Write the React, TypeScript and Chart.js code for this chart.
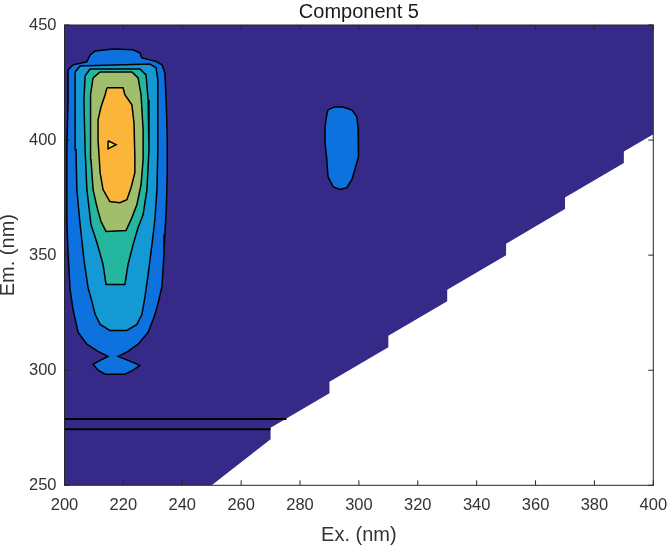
import React, { useEffect, useRef } from 'react';
import { Chart, registerables } from 'chart.js';

Chart.register(...registerables);

// ---- Text ----
const TITLE = 'Component 5';
const X_LABEL = 'Ex. (nm)';
const Y_LABEL = 'Em. (nm)';

// ---- Axes ----
const X_MIN = 200;
const X_MAX = 400;
const X_STEP = 20;
const Y_MIN = 250;
const Y_MAX = 450;
const Y_STEP = 50;

type P = [number, number];

// Region where the spectrum is defined (lowest contour band); staircase lower edge
const dataRegion: P[] = [
  [200, 250], [250, 250], [270, 270], [270, 275], [290, 290], [290, 295],
  [310, 310], [310, 315], [330, 330], [330, 335], [350, 350], [350, 355],
  [370, 370], [370, 375], [390, 390], [390, 395], [400, 402.5], [400, 450], [200, 450],
];

// Contour level 1 – main peak
const level1Main: P[] = [
  [201.2, 430.5], [202.9, 432.7], [207.6, 434.0], [208.7, 437.0], [210.4, 438.7],
  [216.5, 439.6], [223.3, 439.2], [225.6, 437.9], [226.3, 435.7], [231.0, 434.2],
  [233.1, 432.7], [234.1, 429.2], [234.6, 414.4], [234.9, 400.1], [234.9, 385.8],
  [234.6, 371.1], [234.1, 359.0], [233.8, 351.1], [233.1, 336.4], [231.7, 328.6],
  [230.4, 323.0], [228.4, 316.5], [225.3, 311.7], [221.6, 308.2], [218.2, 306.0],
  [221.6, 304.3], [225.6, 302.1], [223.3, 300.0], [220.5, 298.3], [213.8, 298.3],
  [211.4, 300.0], [209.7, 302.6], [212.1, 304.3], [214.8, 306.0], [211.4, 308.2],
  [207.6, 311.3], [204.6, 316.5], [202.9, 326.4], [201.9, 335.1], [201.2, 351.1],
  [200.8, 365.5], [200.8, 395.8], [201.2, 417.5],
];

// Contour level 1 – secondary peak
const level1Side: P[] = [
  [289.5, 413.1], [291.8, 414.4], [294.6, 414.4], [297.6, 413.1], [299.3, 410.1],
  [299.7, 405.8], [300.0, 400.1], [299.7, 392.8], [298.6, 387.1], [297.6, 382.8],
  [295.9, 379.3], [293.5, 378.5], [291.2, 379.8], [289.5, 384.1], [289.1, 391.5],
  [288.5, 398.8], [288.5, 405.8], [289.1, 411.0],
];

const level2: P[] = [
  [203.6, 429.6], [205.3, 432.2], [229.0, 433.1], [231.1, 431.4], [231.7, 426.2],
  [231.7, 413.1], [231.7, 395.8], [231.4, 378.5], [230.7, 365.5], [229.7, 354.6],
  [228.4, 341.6], [227.3, 331.6], [226.3, 324.3], [224.6, 319.9], [221.2, 317.3],
  [215.4, 317.3], [212.1, 319.9], [210.4, 324.3], [209.3, 329.9], [208.0, 336.0],
  [206.6, 348.1], [205.3, 363.3], [204.2, 378.5], [203.9, 395.8], [203.6, 413.1],
];

const level3: P[] = [
  [207.0, 427.9], [208.7, 430.9], [225.6, 430.9], [227.7, 428.3], [228.4, 417.5],
  [228.7, 395.8], [228.0, 378.5], [226.7, 367.6], [225.0, 362.0], [223.3, 354.6],
  [221.6, 346.0], [220.5, 337.3], [214.1, 337.3], [213.1, 346.0], [211.0, 355.5],
  [209.0, 363.3], [207.6, 378.5], [207.0, 395.8], [206.6, 417.5],
];

const level4: P[] = [
  [209.7, 427.0], [212.1, 429.6], [222.9, 429.6], [225.0, 427.0], [226.0, 419.7],
  [226.7, 404.5], [226.7, 391.5], [226.0, 380.6], [224.6, 372.0], [222.9, 366.3],
  [220.9, 360.7], [214.1, 360.3], [212.4, 364.6], [211.0, 371.1], [209.7, 378.5],
  [209.0, 391.5], [208.7, 404.5], [209.0, 419.7],
];

const level5: P[] = [
  [214.4, 422.7], [219.9, 422.7], [220.5, 419.7], [222.9, 415.3], [223.6, 407.5],
  [223.9, 392.8], [223.9, 385.8], [222.6, 379.3], [221.2, 374.1], [218.8, 372.8],
  [215.4, 373.3], [213.1, 378.5], [212.1, 385.8], [211.4, 400.1], [211.4, 408.8],
  [212.4, 414.4], [213.8, 419.7],
];

const level6: P[] = [[214.8, 399.7], [217.5, 398.0], [214.8, 396.2]];

// Two stray horizontal contour lines near the bottom
const ridgeUpper: P[] = [[200, 278.8], [275.4, 278.8]];
const ridgeLower: P[] = [[200, 274.3], [270, 274.3]];

// parula-like level colours
const LEVEL_COLORS = ['#352a87', '#0d72de', '#1599d5', '#25b6a0', '#a0be6c', '#fbb53a', '#ebe51c'];

const FONT = '"Liberation Sans", Arial, sans-serif';
const AXIS_COLOR = '#262626';
const TEXT_COLOR = '#333333';

const toXY = (pts: P[]) => pts.map(([x, y]) => ({ x, y }));

const polygon = (pts: P[], color: string, order: number, outline: boolean) => ({
  data: toXY([...pts, pts[0]]),
  backgroundColor: color,
  borderColor: outline ? '#000000' : color,
  borderWidth: outline ? 1.5 : 0,
  fill: 'shape',
  pointRadius: 0,
  tension: 0,
  order,
});

const segment = (pts: P[], order: number) => ({
  data: toXY(pts),
  borderColor: '#000000',
  borderWidth: 2,
  fill: false,
  pointRadius: 0,
  tension: 0,
  order,
});

const boxPlugin = {
  id: 'matlabBox',
  afterDatasetsDraw(chart: any) {
    const { ctx, chartArea: a, scales } = chart;
    const tl = 5;
    ctx.save();
    ctx.strokeStyle = AXIS_COLOR;
    ctx.lineWidth = 1;
    ctx.strokeRect(a.left, a.top, a.right - a.left, a.bottom - a.top);
    ctx.beginPath();
    scales.x.ticks.forEach((t: any) => {
      const px = scales.x.getPixelForValue(t.value);
      ctx.moveTo(px, a.bottom);
      ctx.lineTo(px, a.bottom - tl);
      ctx.moveTo(px, a.top);
      ctx.lineTo(px, a.top + tl);
    });
    scales.y.ticks.forEach((t: any) => {
      const py = scales.y.getPixelForValue(t.value);
      ctx.moveTo(a.left, py);
      ctx.lineTo(a.left + tl, py);
      ctx.moveTo(a.right, py);
      ctx.lineTo(a.right - tl, py);
    });
    ctx.stroke();
    ctx.restore();
  },
};

export default function App() {
  const ref = useRef<HTMLCanvasElement | null>(null);

  useEffect(() => {
    if (!ref.current) return;
    const chart = new Chart(ref.current, {
      type: 'line',
      data: {
        datasets: [
          polygon(dataRegion, LEVEL_COLORS[0], 20, false),
          polygon(level1Main, LEVEL_COLORS[1], 19, true),
          polygon(level1Side, LEVEL_COLORS[1], 19, true),
          polygon(level2, LEVEL_COLORS[2], 18, true),
          polygon(level3, LEVEL_COLORS[3], 17, true),
          polygon(level4, LEVEL_COLORS[4], 16, true),
          polygon(level5, LEVEL_COLORS[5], 15, true),
          polygon(level6, LEVEL_COLORS[6], 14, true),
          segment(ridgeUpper, 10),
          segment(ridgeLower, 10),
        ] as any,
      },
      options: {
        responsive: false,
        animation: false,
        events: [],
        layout: { padding: { top: 0, right: 14.7, bottom: 0, left: 0 } },
        plugins: {
          legend: { display: false },
          tooltip: { enabled: false },
          title: {
            display: true,
            text: TITLE,
            fullSize: false,
            color: '#1a1a1a',
            font: { family: FONT, size: 20, weight: 'normal', lineHeight: 1 },
            padding: { top: 2, bottom: 3 },
          },
        },
        scales: {
          x: {
            type: 'linear',
            min: X_MIN,
            max: X_MAX,
            ticks: {
              stepSize: X_STEP,
              padding: 10,
              color: TEXT_COLOR,
              font: { family: FONT, size: 16.5 },
              maxRotation: 0,
              autoSkip: false,
            },
            grid: { display: false, drawTicks: false },
            border: { display: false },
            title: {
              display: true,
              text: X_LABEL,
              color: TEXT_COLOR,
              font: { family: FONT, size: 20, lineHeight: 1 },
              padding: { top: 0, bottom: 0.3 },
            },
            afterFit(s: any) {
              s.height = 60.7;
              s.paddingLeft = 0;
              s.paddingRight = 0;
            },
          },
          y: {
            type: 'linear',
            min: Y_MIN,
            max: Y_MAX,
            ticks: {
              stepSize: Y_STEP,
              padding: 8,
              color: TEXT_COLOR,
              font: { family: FONT, size: 16.5 },
            },
            grid: { display: false, drawTicks: false },
            border: { display: false },
            title: {
              display: true,
              text: Y_LABEL,
              color: TEXT_COLOR,
              font: { family: FONT, size: 20, lineHeight: 0.85 },
              padding: { top: 0, bottom: 0 },
            },
            afterFit(s: any) {
              s.width = 64.5;
              s.paddingTop = 0;
              s.paddingBottom = 0;
            },
          },
        },
      } as any,
      plugins: [boxPlugin],
    });
    return () => chart.destroy();
  }, []);

  return (
    <div style={{ position: 'fixed', left: 0, top: 0, width: 668, height: 546, background: '#ffffff' }}>
      <canvas ref={ref} width={668} height={546} style={{ display: 'block' }} />
    </div>
  );
}
